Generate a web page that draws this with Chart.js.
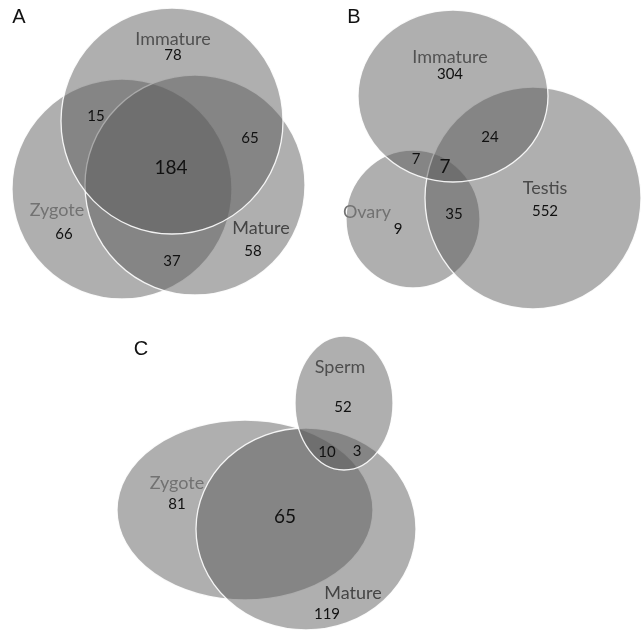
<!DOCTYPE html>
<html>
<head>
<meta charset="utf-8">
<script src="https://cdn.jsdelivr.net/npm/chart.js@4.4.0/dist/chart.umd.min.js"></script>
<style>
  body { margin: 0; background: #fff; }
  #venn { display: block; }
</style>
</head>
<body>
<canvas id="venn" width="642" height="630"></canvas>
<script>
// panel A: Immature / Zygote / Mature
const setsA = ["Immature", "Zygote", "Mature"];
const regionsA = ["Immature", "Zygote", "Mature", "Immature+Zygote", "Immature+Mature", "Zygote+Mature", "all"];
const countsA = [78, 66, 58, 15, 65, 37, 184];

// panel B: Immature / Ovary / Testis
const setsB = ["Immature", "Ovary", "Testis"];
const regionsB = ["Immature", "Ovary", "Testis", "Immature+Ovary", "Immature+Testis", "Ovary+Testis", "all"];
const countsB = [304, 9, 552, 7, 24, 35, 7];

// panel C: Sperm / Zygote / Mature
const setsC = ["Sperm", "Zygote", "Mature"];
const regionsC = ["Sperm", "Zygote", "Mature", "Sperm+Mature", "Zygote+Mature", "all"];
const countsC = [52, 81, 119, 3, 65, 10];

// layout (page units, 642 x 630) -- kept apart from the values
const shapes = {
  A: [[122, 189, 110, 110], [195, 185, 110, 110], [172, 121, 111, 113]], // Zygote, Mature, Immature (draw order)
  B: [[413, 219, 67, 69], [533, 198, 108, 111], [453, 96, 95, 86]],      // Ovary, Testis, Immature
  C: [[245, 510, 128, 90], [306, 529, 110, 101], [344, 403, 49, 67]]     // Zygote, Mature, Sperm
};
const namePos = {
  A: [[173, 39], [57, 210], [261, 228]],
  B: [[450, 57], [367, 212], [545, 188]],
  C: [[340, 367], [177, 483], [353, 593]]
};
const nameColor = {
  A: ["#505050", "#727272", "#454545"],
  B: ["#525252", "#727272", "#4a4a4a"],
  C: ["#4e4e4e", "#727272", "#454545"]
};
const countPos = {
  A: [[173, 55], [64, 234], [253, 251], [96, 116], [250, 138], [172, 261], [171, 168]],
  B: [[450, 74], [398, 229], [545, 211], [416, 159], [490, 137], [454, 214], [445, 167]],
  C: [[343, 407], [177, 504], [327, 614], [357, 451], [285, 517], [327, 452]]
};
const panelTags = [["A", 19, 17], ["B", 354, 17], ["C", 141, 349]];

function countData(counts, pos) {
  return counts.map((c, i) => ({ x: pos[i][0], y: pos[i][1], count: c }));
}

const vennPlugin = {
  id: "venn",
  beforeDatasetsDraw(chart) {
    const ctx = chart.ctx;
    const xs = chart.scales.x, ys = chart.scales.y;
    ctx.save();
    Object.keys(shapes).forEach(k => {
      shapes[k].forEach(s => {
        const cx = xs.getPixelForValue(s[0]);
        const cy = ys.getPixelForValue(s[1]);
        const rx = Math.abs(xs.getPixelForValue(s[0] + s[2]) - cx);
        const ry = Math.abs(ys.getPixelForValue(s[1] + s[3]) - cy);
        ctx.beginPath();
        ctx.ellipse(cx, cy, rx, ry, 0, 0, Math.PI * 2);
        ctx.fillStyle = "rgba(88, 88, 88, 0.48)";
        ctx.fill();
        ctx.lineWidth = 1.3;
        ctx.strokeStyle = "rgba(255, 255, 255, 0.9)";
        ctx.stroke();
      });
    });
    ctx.restore();
  },
  afterDatasetsDraw(chart) {
    const ctx = chart.ctx;
    const xs = chart.scales.x, ys = chart.scales.y;
    ctx.save();
    ctx.textAlign = "center";
    ctx.textBaseline = "middle";
    // set names
    const names = { A: setsA, B: setsB, C: setsC };
    Object.keys(names).forEach(k => {
      names[k].forEach((n, i) => {
        ctx.font = "18px Lato";
        ctx.fillStyle = nameColor[k][i];
        ctx.fillText(n, xs.getPixelForValue(namePos[k][i][0]), ys.getPixelForValue(namePos[k][i][1]));
      });
    });
    // region counts
    chart.data.datasets.forEach((ds, di) => {
      const meta = chart.getDatasetMeta(di);
      meta.data.forEach((pt, i) => {
        const big = ds.bigIndex === i;
        ctx.font = big ? "19px Lato" : "15px Lato";
        ctx.fillStyle = "#111";
        ctx.fillText(String(ds.data[i].count), pt.x, pt.y);
      });
    });
    // panel letters
    ctx.font = "20px 'Liberation Sans'";
    ctx.fillStyle = "#111";
    panelTags.forEach(t => ctx.fillText(t[0], xs.getPixelForValue(t[1]), ys.getPixelForValue(t[2])));
    ctx.restore();
  }
};

new Chart(document.getElementById("venn"), {
  type: "scatter",
  data: {
    datasets: [
      { label: "A", data: countData(countsA, countPos.A), bigIndex: 6, pointRadius: 0 },
      { label: "B", data: countData(countsB, countPos.B), bigIndex: 6, pointRadius: 0 },
      { label: "C", data: countData(countsC, countPos.C), bigIndex: 4, pointRadius: 0 }
    ]
  },
  options: {
    responsive: false,
    animation: false,
    layout: { padding: 0 },
    scales: {
      x: { type: "linear", min: 0, max: 642, display: false },
      y: { type: "linear", min: 0, max: 630, reverse: true, display: false }
    },
    plugins: {
      legend: { display: false },
      tooltip: { enabled: false }
    }
  },
  plugins: [vennPlugin]
});
</script>
</body>
</html>
